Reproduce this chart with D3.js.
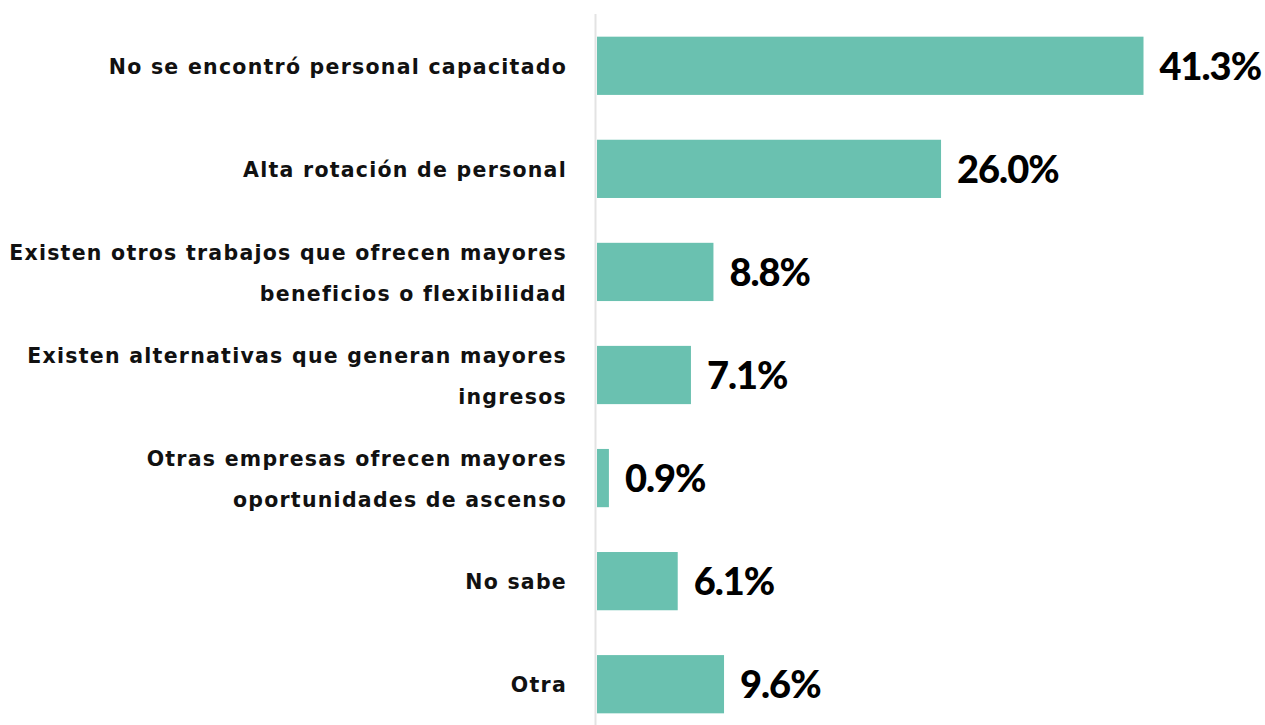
<!DOCTYPE html>
<html><head><meta charset="utf-8">
<script src="https://cdn.jsdelivr.net/npm/d3@7"></script>
<style>html,body{margin:0;padding:0;background:#fff;}</style>
</head><body>
<svg id="chart" width="1265" height="725"></svg>
<script>
const categories = [
  ["No se encontró personal capacitado"],
  ["Alta rotación de personal"],
  ["Existen otros trabajos que ofrecen mayores", "beneficios o flexibilidad"],
  ["Existen alternativas que generan mayores", "ingresos"],
  ["Otras empresas ofrecen mayores", "oportunidades de ascenso"],
  ["No sabe"],
  ["Otra"]
];
const values = [41.3, 26.0, 8.8, 7.1, 0.9, 6.1, 9.6];
const valueLabels = ["41.3%", "26.0%", "8.8%", "7.1%", "0.9%", "6.1%", "9.6%"];

const svg = d3.select("#chart");
const x0 = 597;
const x = d3.scaleLinear().domain([0, 41.3]).range([x0, 1143.5]);
const y = d3.scaleBand().domain(d3.range(values.length)).range([14, 736]).paddingInner(0.435).paddingOuter(0.22);

svg.append("line").attr("x1", x0 - 1.5).attr("x2", x0 - 1.5).attr("y1", 14).attr("y2", 725)
  .attr("stroke", "#e3e3e3").attr("stroke-width", 2);

svg.selectAll("rect.bar").data(values).join("rect").attr("class", "bar")
  .attr("x", x0).attr("y", (d, i) => y(i))
  .attr("width", d => x(d) - x0).attr("height", y.bandwidth())
  .attr("fill", "#6ac1b0");

svg.selectAll("text.val").data(values).join("text").attr("class", "val")
  .attr("x", d => x(d) + 16).attr("y", (d, i) => y(i) + y.bandwidth() / 2 + 14)
  .attr("font-family", "Lato").attr("font-weight", 900).attr("font-size", 38)
  .attr("letter-spacing", -1).attr("fill", "#000")
  .text((d, i) => valueLabels[i]);

const lbl = svg.selectAll("text.cat").data(categories).join("text").attr("class", "cat")
  .attr("text-anchor", "end")
  .attr("font-family", "DejaVu Sans").attr("font-weight", 700).attr("font-size", 20.5)
  .attr("letter-spacing", 1.25).attr("fill", "#111");
lbl.each(function(lines, i) {
  const c = y(i) + y.bandwidth() / 2;
  const t = d3.select(this);
  const start = lines.length === 1 ? c + 8 : c - 12;
  lines.forEach((s, k) => {
    t.append("tspan").attr("x", 567).attr("y", start + k * 41).text(s);
  });
});
</script>
</body></html>
